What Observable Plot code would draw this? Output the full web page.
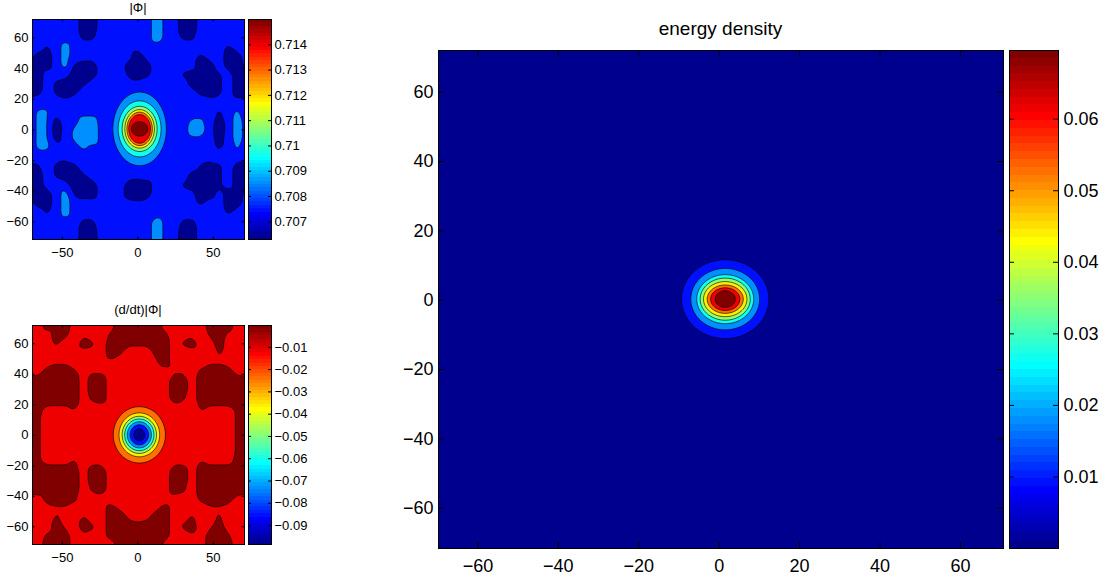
<!DOCTYPE html>
<html>
<head>
<meta charset="utf-8">
<script src="https://cdn.jsdelivr.net/npm/d3@7"></script>
<script src="https://cdn.jsdelivr.net/npm/@observablehq/plot@0.6"></script>
<style>
  html, body { margin: 0; padding: 0; background: #fff; }
  #root { position: relative; width: 1107px; height: 582px; overflow: hidden; font-family: "Liberation Sans", Arial, Helvetica, sans-serif; }
  .box { position: absolute; }
  .title { position: absolute; white-space: nowrap; line-height: 1; color: #000; transform: translateX(-50%); }
</style>
</head>
<body>
<div id="root"></div>
<script>
// ---------------- data ----------------
// coarse sample grid of the background fields (x columns, y rows from top)
const gridX = [-72,-66,-60,-54,-48,-42,-36,-30,-24,-18,-12,-6,0,6,12,18,24,30,36,42,48,54,60,66,72];
const gridY = [72,66,60,54,48,42,36,30,24,18,12,6,0,-6,-12,-18,-24,-30,-36,-42,-48,-54,-60,-66,-72];

// |Phi| background: code 5 = plain level, <3.5 = dark patches, >6.5 = light patches
const phiRows = [
"55555 52255 55558 65225 55555",
"55555 52255 55558 65225 55555",
"55555 53355 55558 65335 55555",
"55358 55555 55555 55555 55355",
"52258 55555 55155 55553 55225",
"52258 32255 52025 55551 25225",
"22555 22255 53135 55322 23522",
"22532 23555 55555 55522 23522",
"23531 35555 55555 55553 23522",
"55555 55555 55555 55555 55555",
"57755 55555 55555 55555 53575",
"57725 58855 55555 55577 52585",
"57715 79955 55555 55588 51585",
"57725 79955 55555 55566 52585",
"57755 57555 55555 55555 53575",
"55555 55555 55555 55555 55555",
"23531 35555 55555 55553 23522",
"22532 23555 55555 55522 23522",
"22555 22255 52125 55322 23522",
"52258 32255 52025 55551 25225",
"52258 55555 55555 55553 55225",
"55358 55555 55555 55555 55355",
"55555 53355 55558 65335 55555",
"55555 52255 55558 65225 55555",
"55555 52255 55558 65225 55555"
];

// (d/dt)|Phi| background: code 5 = red level, >6.5 = dark red patches
const dphiRows = [
"55888 55555 88888 55555 88855",
"55587 56557 88888 75565 78655",
"55575 58758 87778 85785 58555",
"55555 55558 75557 85555 57555",
"55566 55556 55556 85555 66555",
"55888 75665 55555 56657 88855",
"88888 85885 55555 58858 88888",
"88888 85885 55555 58858 88888",
"88888 85785 55555 58758 88888",
"87666 75555 55555 55557 66678",
"87555 55555 55555 55555 55578",
"87555 55555 55555 55555 55578",
"87555 55555 55555 55555 55578",
"87555 55555 55555 55555 55578",
"87555 55555 55555 55555 55578",
"87666 75665 55555 56657 66678",
"88888 85885 55555 58858 88888",
"88888 85885 55555 58858 88888",
"88888 85785 55555 58758 88888",
"55888 75555 55555 55557 88855",
"55566 55558 65556 85555 66555",
"55575 57558 86668 85575 57555",
"55586 58758 88788 85785 68555",
"55788 56558 88888 85565 88755",
"55888 55555 88888 55555 88855"
];
const energyBackground = 0.0003;

// colour-bar ranges (lowest value .. top contour level)
const phiRange = [0.7063, 0.7150];
const dphiRange = [-0.0985, -0.0002];
const energyRange = [0.0, 0.0696];

// contour levels
const phiLevels = [0.7073875, 0.708475, 0.7095625, 0.71065, 0.7117375, 0.712825, 0.7139125, 0.7150];
const dphiLevels = [-0.0862125, -0.073925, -0.0616375, -0.04935, -0.0370625, -0.024775, -0.0124875, -0.0002];
const energyLevels = [0.0087, 0.0174, 0.0261, 0.0348, 0.0435, 0.0522, 0.0609, 0.0696];

// central bumps: centre, extreme value, contour ring half-widths (outer -> inner)
const phiCenter = [1.2, 0.6];
const phiPeak = 0.7161;
const phiRingRx = [17.4, 14.1, 11.5, 9.7, 8.4, 7.2, 5.5];
const phiRingRy = [23.6, 18.1, 14.6, 12.5, 10.9, 9.4, 4.6];

const dphiCenter = [1.0, 0.3];
const dphiTrough = -0.0985;
const dphiRingRx = [16.5, 13.0, 11.2, 9.9, 8.2, 6.4, 4.4];
const dphiRingRy = [17.7, 14.0, 12.0, 10.6, 8.8, 6.9, 4.8];

const energyCenter = [1.5, 0.3];
const energyPeak = 0.0783;
const energyRingRx = [10.75, 8.48, 7.03, 6.2, 5.38, 4.47, 3.64, 2.48];
const energyRingRy = [11.26, 8.77, 7.0, 6.04, 5.03, 4.07, 3.26, 2.4];

// axes
const xDomain = [-69.8, 70.7];
const yDomain = [-71.6, 72.0];
const smallXTicks = [-50, 0, 50];
const smallYTicks = [-60, -40, -20, 0, 20, 40, 60];
const bigXTicks = [-60, -40, -20, 0, 20, 40, 60];
const bigYTicks = [-60, -40, -20, 0, 20, 40, 60];
const phiTicks = [0.707, 0.708, 0.709, 0.71, 0.711, 0.712, 0.713, 0.714];
const dphiTicks = [-0.09, -0.08, -0.07, -0.06, -0.05, -0.04, -0.03, -0.02, -0.01];
const energyTicks = [0.01, 0.02, 0.03, 0.04, 0.05, 0.06];

// ---------------- colour map (MATLAB jet, 64 steps) ----------------
function jetRow(i) {
  const r = i <= 24 ? 0 : i <= 40 ? (i - 24) / 16 : i <= 56 ? 1 : 1 - (i - 56) / 16;
  const g = i <= 8 ? 0 : i <= 24 ? (i - 8) / 16 : i <= 40 ? 1 : i <= 56 ? 1 - (i - 40) / 16 : 0;
  const b = i <= 8 ? (i + 8) / 16 : i <= 24 ? 1 : i <= 40 ? 1 - (i - 24) / 16 : 0;
  return d3.rgb(Math.round(r * 255), Math.round(g * 255), Math.round(b * 255)).formatHex();
}
const jet = (t) => jetRow(Math.max(1, Math.min(64, Math.floor(t * 64 + 1e-4) + 1)));
const fmt = (d) => (d < 0 ? "\u2212" : "") + String(Math.abs(d));

// ---------------- field samples ----------------
const SKIRT = 1.3, NA = 72;
function gridPoints(rows, lo, hi, uniform, hole) {
  const code = (c) => lo + (c - 3.5) * (hi - lo) / 3;
  const pts = [];
  gridY.forEach((y, j) => {
    const row = rows ? rows[j].replace(/ /g, "") : null;
    gridX.forEach((x, i) => {
      if (hole && ((x - hole.cx) / hole.a) ** 2 + ((y - hole.cy) / hole.b) ** 2 < 1) return;
      pts.push({x, y, v: rows ? code(+row[i]) : uniform});
    });
  });
  return pts;
}
function bumpPoints({center, levels, rx, ry, extreme, dir, range, bg}) {
  const [cx, cy] = center;
  const eps = 0.004 * (range[1] - range[0]);
  const pts = [];
  const ring = (a, b, v) => {
    for (let k = 0; k < NA; k++) {
      const t = 2 * Math.PI * k / NA;
      pts.push({x: cx + a * Math.cos(t), y: cy + b * Math.sin(t), v});
    }
  };
  ring(rx[0] * SKIRT, ry[0] * SKIRT, bg);
  levels.forEach((L, k) => ring(rx[k], ry[k], L + dir * eps));
  pts.push({x: cx, y: cy, v: extreme});
  return pts;
}
const holeOf = (c, rx, ry) => ({cx: c[0], cy: c[1], a: rx[0] * SKIRT, b: ry[0] * SKIRT});
const low = (r) => r[0] - 10 * (r[1] - r[0]);

// |Phi|: blurred background layer + crisp central bump layer
const phiBg = (phiLevels[0] + phiLevels[1]) / 2;
const phiLayers = [
  {points: gridPoints(phiRows, phiLevels[0], phiLevels[1]), thresholds: [low(phiRange), phiLevels[0], phiLevels[1]], blur: 2},
  {points: bumpPoints({center: phiCenter, levels: phiLevels.slice(1), rx: phiRingRx, ry: phiRingRy,
     extreme: phiPeak, dir: 1, range: phiRange, bg: phiBg}), thresholds: phiLevels.slice(1), blur: 0}
];
// (d/dt)|Phi|: one blurred layer
const dphiBg = (dphiLevels[6] + dphiLevels[7]) / 2;
const dphiLayers = [
  {points: gridPoints(dphiRows, dphiLevels[6], dphiLevels[7], null, holeOf(dphiCenter, dphiRingRx, dphiRingRy))
     .concat(bumpPoints({center: dphiCenter, levels: dphiLevels.slice(0, 7).reverse(), rx: dphiRingRx, ry: dphiRingRy,
       extreme: dphiTrough, dir: -1, range: dphiRange, bg: dphiBg})),
   thresholds: [low(dphiRange), ...dphiLevels], blur: 2}
];
// energy density
const energyLayers = [
  {points: gridPoints(null, 0, 0, energyBackground, holeOf(energyCenter, energyRingRx, energyRingRy))
     .concat(bumpPoints({center: energyCenter, levels: energyLevels, rx: energyRingRx, ry: energyRingRy,
       extreme: energyPeak, dir: 1, range: energyRange, bg: energyBackground})),
   thresholds: [low(energyRange), ...energyLevels], blur: 0}
];

const FONT = '"Liberation Sans", Arial, Helvetica, sans-serif';

function panel({layers, range, xTicks, yTicks, W, H, ml, mt, mr, mb, font, tick, padX, padY}) {
  return Plot.plot({
    width: W + ml + mr, height: H + mt + mb,
    marginLeft: ml, marginRight: mr, marginTop: mt, marginBottom: mb,
    style: {fontFamily: FONT, fontSize: font + "px", color: "#000", background: "transparent", overflow: "visible"},
    x: {domain: xDomain, ticks: xTicks, tickSize: 0, tickPadding: padX, label: null, tickFormat: fmt},
    y: {domain: yDomain, ticks: yTicks, tickSize: 0, tickPadding: padY, label: null, tickFormat: fmt},
    color: {type: "linear", domain: range, interpolate: jet},
    marks: [
      ...layers.map((L) => Plot.contour(L.points, {x: "x", y: "y", fill: "v", thresholds: L.thresholds,
        interpolate: "barycentric", pixelSize: 1, blur: L.blur, stroke: "#000", strokeWidth: 0.6})),
      Plot.tickX(xTicks, {x: (d) => d, insetTop: H - tick, stroke: "#000"}),
      Plot.tickX(xTicks, {x: (d) => d, insetBottom: H - tick, stroke: "#000"}),
      Plot.tickY(yTicks, {y: (d) => d, insetRight: W - tick, stroke: "#000"}),
      Plot.tickY(yTicks, {y: (d) => d, insetLeft: W - tick, stroke: "#000"}),
      Plot.frame({stroke: "#000", strokeWidth: 1})
    ]
  });
}

function colorbar({range, ticks, W, H, mt, mb, mr, font, tick, pad}) {
  const n = 64;
  const bands = d3.range(n).map((i) => ({
    lo: range[0] + i * (range[1] - range[0]) / n,
    hi: range[0] + (i + 1) * (range[1] - range[0]) / n
  }));
  return Plot.plot({
    width: W + 1 + mr, height: H + mt + mb,
    marginLeft: 1, marginRight: mr, marginTop: mt, marginBottom: mb,
    style: {fontFamily: FONT, fontSize: font + "px", color: "#000", background: "transparent", overflow: "visible"},
    x: {domain: [0, 1], axis: null},
    y: {domain: range, ticks, tickSize: 0, tickPadding: pad, label: null, axis: "right", tickFormat: fmt},
    color: {type: "linear", domain: range, interpolate: jet},
    marks: [
      Plot.rect(bands, {x1: () => 0, x2: () => 1, y1: "lo", y2: "hi", fill: (d) => (d.lo + d.hi) / 2, shapeRendering: "crispEdges"}),
      Plot.tickY(ticks, {y: (d) => d, insetRight: W - tick, stroke: "#000"}),
      Plot.tickY(ticks, {y: (d) => d, insetLeft: W - tick, stroke: "#000"}),
      Plot.frame({stroke: "#000", strokeWidth: 1})
    ]
  });
}

const root = document.getElementById("root");
function place(node, left, top) {
  const d = document.createElement("div");
  d.className = "box";
  d.style.left = left + "px";
  d.style.top = top + "px";
  d.style.width = node.getAttribute("width") + "px";
  d.style.height = node.getAttribute("height") + "px";
  d.appendChild(node);
  root.appendChild(d);
}
function title(text, cx, baseline, size) {
  const t = document.createElement("div");
  t.className = "title";
  t.textContent = text;
  t.style.fontSize = size + "px";
  t.style.left = cx + "px";
  t.style.top = (baseline - 0.8465 * size) + "px";
  root.appendChild(t);
}

// panel A: |Phi|
place(panel({layers: phiLayers, range: phiRange, xTicks: smallXTicks, yTicks: smallYTicks,
  W: 212, H: 220, ml: 32, mt: 19, mr: 4, mb: 30, font: 13, tick: 2.5, padX: 8, padY: 4}), 0, 0);
place(colorbar({range: phiRange, ticks: phiTicks, W: 23, H: 220, mt: 10, mb: 10, mr: 50, font: 13, tick: 3, pad: 3}), 247, 9);

// panel B: (d/dt)|Phi|
place(panel({layers: dphiLayers, range: dphiRange, xTicks: smallXTicks, yTicks: smallYTicks,
  W: 212, H: 219, ml: 32, mt: 19, mr: 4, mb: 30, font: 13, tick: 2.5, padX: 8, padY: 4}), 0, 306);
place(colorbar({range: dphiRange, ticks: dphiTicks, W: 23, H: 219, mt: 10, mb: 10, mr: 50, font: 13, tick: 3, pad: 3}), 247, 315);

// panel C: energy density
place(panel({layers: energyLayers, range: energyRange, xTicks: bigXTicks, yTicks: bigYTicks,
  W: 565, H: 498, ml: 60, mt: 10, mr: 4, mb: 34, font: 18, tick: 6, padX: 11, padY: 5}), 378, 40);
place(colorbar({range: energyRange, ticks: energyTicks, W: 49, H: 498, mt: 10, mb: 10, mr: 47, font: 18, tick: 5, pad: 5}), 1008, 40);

title("|\u03A6|", 138, 12, 13);
title("(d/dt)|\u03A6|", 138, 314, 13);
title("energy density", 720.5, 35.5, 19);
</script>
</body>
</html>
